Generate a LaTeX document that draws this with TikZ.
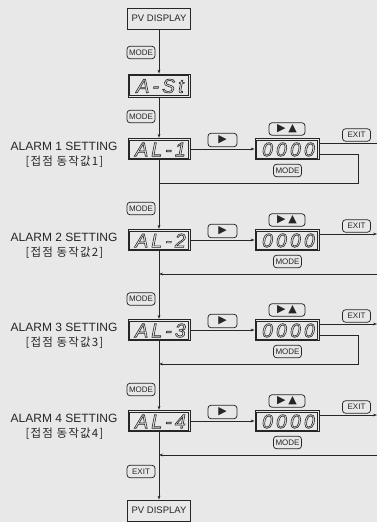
\documentclass[tikz,border=0pt]{standalone}
\usepackage{fontspec}
\setmainfont{Liberation Sans}
\newfontfamily\kofont[LetterSpace=10]{Noto Sans CJK KR}
\newfontfamily\symfont{DejaVu Sans}
\newfontfamily\segfont[LetterSpace=16]{Liberation Sans}
\usetikzlibrary{arrows.meta}
\definecolor{bg}{RGB}{232,232,232}
\definecolor{ink}{RGB}{38,38,38}
\newcommand\outltext[1]{\special{pdf:literal direct 1 Tr}#1\special{pdf:literal direct 0 Tr}}
\tikzset{
  lab/.style={text=ink, font=\fontsize{12}{13}\selectfont, inner sep=0pt},
  kolab/.style={text=ink, font=\kofont\fontsize{11.5}{13}\selectfont, inner sep=0pt},
  pvbox/.style={draw=ink, line width=0.7pt, minimum width=63pt, minimum height=21pt, inner sep=0pt, text=ink, font=\fontsize{9.5}{11}\selectfont},
  disp/.style={draw=ink, line width=0.7pt, minimum width=62pt, minimum height=21.5pt, inner sep=0pt,
    path picture={\draw[ink, line width=0.5pt] ([shift={(1.7pt,1.7pt)}]path picture bounding box.south west) rectangle ([shift={(-1.7pt,-1.7pt)}]path picture bounding box.north east);}},
  segtxt/.style={text=ink, line width=0.6pt, inner sep=0pt, font=\segfont\itshape\fontsize{19.5}{20}\selectfont},
  btn/.style={draw=ink, rounded corners=3pt, line width=0.75pt, inner sep=0pt, minimum width=28pt, minimum height=12.5pt, text=ink, font=\fontsize{8}{9}\selectfont},
  symbtn/.style={btn, font=\symfont\fontsize{11}{11}\selectfont},
  ln/.style={draw=ink, line width=0.65pt},
  arr/.style={ln, -{Stealth[length=4pt,width=2.8pt]}},
}
\begin{document}
\begin{tikzpicture}[x=1pt,y=-1pt]
\fill[bg] (0,0) rectangle (377,522);
\useasboundingbox (0,0) rectangle (377,522);
% top column
\node[pvbox] (pvt) at (159,18.5) {PV DISPLAY};
\node[btn] (mode1) at (141,52.5) {MODE};
\node[disp, minimum height=23pt] (ast) at (159,85.5) {};
\node[segtxt] (astt) at (160,86) {\outltext{A-St}};
\node[btn] (mode2) at (141,116.5) {MODE};
% rows
\foreach \i/\c in {1/149,2/240,3/330,4/421}{
  \node[disp] (al\i) at (159,\c) {};
  \node[segtxt] (alt\i) at (160.5,\c+0.5) {\outltext{AL-\i}};
  \node[lab] (lab\i) at (64,\c-3) {ALARM \i\ SETTING};
  \node[kolab] (ko\i) at (64.5,\c+13) {[접점 동작값\i]};
  \node[symbtn, minimum width=29pt, minimum height=13.5pt] (r\i) at (222.5,\c-9) {▶};
  \node[disp, minimum width=64pt] (d\i) at (287,\c) {};
  \node[segtxt] (dt\i) at (288.5,\c+0.5) {\outltext{0000}};
  \node[symbtn, minimum width=36pt, minimum height=12.5pt] (ud\i) at (287,\c-20) {▶\hspace{3pt}▲};
  \node[btn] (ex\i) at (356.5,\c-14) {EXIT};
  \node[btn] (md\i) at (287.5,\c+21.5) {MODE};
  \coordinate (e\i) at (377,\c-6);
  \coordinate (j\i) at (159,\c+34);
  \draw[arr] (al\i.east) -- (d\i.west);
}
% exit lines
\draw[ln] (d1.east |- e1) -- (e1);
\draw[arr] (d2.east |- e2) -- (e2);
\draw[arr] (d3.east |- e3) -- (e3);
\draw[arr] (d4.east |- e4) -- (e4);
% loops
\coordinate (lp1) at (358,154);
\coordinate (lp3) at (358,335);
\draw[ln] (d1.east |- lp1) -- (lp1) |- (j1);
\draw[arr] (d3.east |- lp3) -- (lp3) |- (j3);
\coordinate (rs2) at (377,274);
\coordinate (rs4) at (377,455);
\draw[arr] (rs2) -- (j2);
\draw[arr] (rs4) -- (j4);
% mode buttons between rows
\node[btn] (mode3) at (141,208.5) {MODE};
\node[btn] (mode4) at (141,299) {MODE};
\node[btn] (mode5) at (141,389.5) {MODE};
\node[btn] (exitb) at (141,471.5) {EXIT};
\node[pvbox] (pvb) at (159,510.5) {PV DISPLAY};
% main column
\draw[arr] (pvt) -- (ast);
\draw[arr] (ast) -- (al1);
\draw[arr] (al1) -- (al2);
\draw[arr] (al2) -- (al3);
\draw[arr] (al3) -- (al4);
\draw[arr] (al4) -- (pvb);
\end{tikzpicture}
\end{document}
